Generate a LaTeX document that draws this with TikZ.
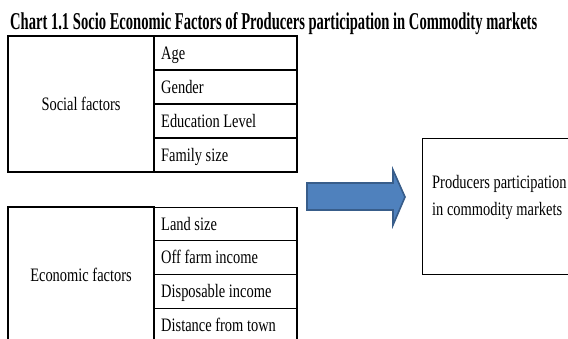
\documentclass[tikz,border=0pt]{standalone}
\usepackage{fontspec}
\usepackage{graphicx}
\setmainfont{Liberation Serif}[FakeStretch=0.76]
\definecolor{arrowfill}{RGB}{79,129,189}
\definecolor{arrowline}{RGB}{56,93,138}
\begin{document}
\begin{tikzpicture}[x=1pt,y=-1pt,
  cell/.style={draw=black,line width=1.2pt,inner sep=0pt},
  item/.style={anchor=base west,inner sep=0pt,font=\fontsize{19pt}{22pt}\selectfont},
  label/.style={inner sep=0pt,font=\fontsize{19pt}{22pt}\selectfont}]
\clip (0,0) rectangle (568,338);
\fill[white] (0,0) rectangle (568,338);
% title
\node[anchor=base west,inner sep=0pt] (title) at (10,29)
  {\resizebox{527pt}{17pt}{\bfseries Chart 1.1 Socio Economic Factors of Producers participation in Commodity markets}};
% social table
\node[cell,minimum width=146pt,minimum height=136pt] (social) at (81,104) {};
\node[label] (socialtxt) at (81,104) {Social factors};
\foreach \i/\t [count=\k] in {0/Age,1/Gender,2/Education Level,3/Family size}{
  \node[cell,minimum width=143pt,minimum height=34pt] (s\k) at (225.5,{53+34*\i}) {};
  \node[item] (st\k) at (161,{59+34*\i}) {\t};
}
% economic table
\node[cell,minimum width=146pt,minimum height=135pt] (economic) at (81,274.5) {};
\node[label] (economictxt) at (81,274.5) {Economic factors};
\foreach \i/\t [count=\k] in {0/Land size,1/Off farm income,2/Disposable income,3/Distance from town}{
  \node[cell,minimum width=143pt,minimum height=33.75pt] (e\k) at (225.5,{224+33.75*\i}) {};
  \node[item] (et\k) at (161,{230+33.75*\i}) {\t};
}
% block arrow
\coordinate (a1) at (307,183);
\coordinate (a2) at (393,183);
\coordinate (a3) at (393,170);
\coordinate (a4) at (405,197);
\coordinate (a5) at (393,225);
\coordinate (a6) at (393,210);
\coordinate (a7) at (307,210);
\draw[fill=arrowfill,draw=arrowline,line width=1.6pt,line join=miter]
  (a1) -- (a2) -- (a3) -- (a4) -- (a5) -- (a6) -- (a7) -- cycle;
% result box
\node[cell,minimum width=160pt,minimum height=136pt,anchor=north west] (result) at (422,138) {};
\node[item] (rt1) at (432,188) {Producers participation};
\node[item] (rt2) at (432,215) {in commodity markets};
\end{tikzpicture}
\end{document}
